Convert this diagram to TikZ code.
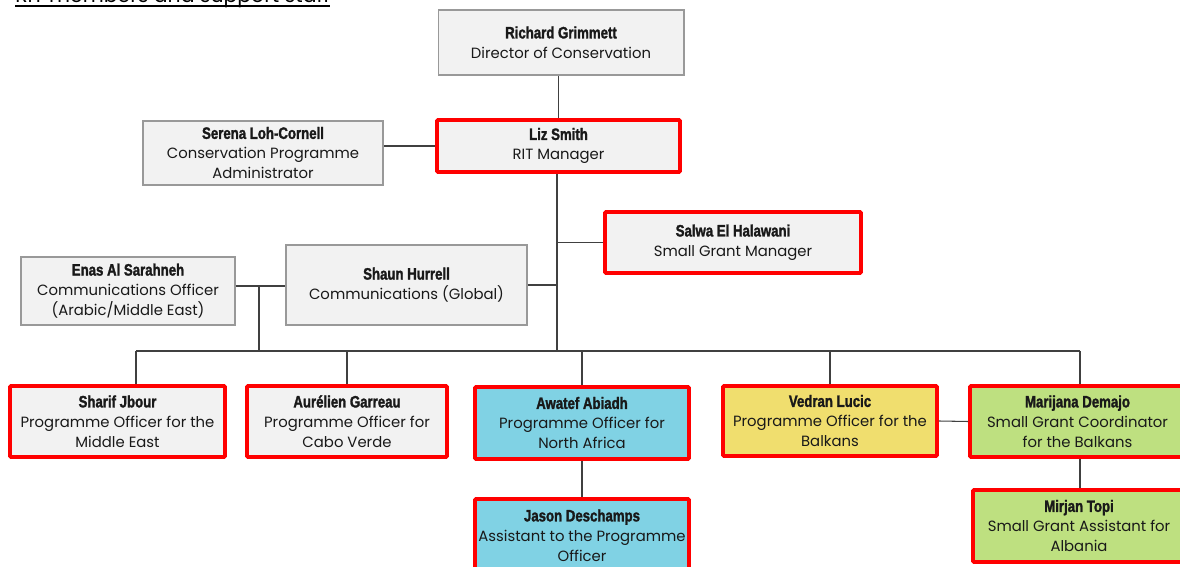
\documentclass[tikz,border=0pt]{standalone}
\usepackage{fontspec}
\setmainfont{Poppins}
\newfontfamily\namefont[FakeStretch=0.8, FakeBold=1.6]{Liberation Sans}
\usepackage{xcolor}
\usepackage{tikz}
\usetikzlibrary{shapes,positioning}

\definecolor{boxgrey}{HTML}{F2F2F2}
\definecolor{ritred}{HTML}{FF0000}
\definecolor{poblue}{HTML}{80D2E4}
\definecolor{poyellow}{HTML}{F0DE6E}
\definecolor{pogreen}{HTML}{BEE080}
\definecolor{linegrey}{HTML}{404040}

\newcommand{\who}[1]{{\namefont\bfseries\fontsize{9.4}{11.4}\selectfont #1}}

\tikzset{
    box/.style={rectangle, align=center, inner sep=0pt, text=black!90,
        font=\fontsize{8.45}{11.4}\selectfont},
    staffbox/.style={box, draw=gray!80, line width=0.6pt, fill=boxgrey},
    ritbox/.style={box, draw=ritred, line width=2.2pt, rounded corners=0.6pt, fill=boxgrey},
    link/.style={draw=linegrey, line width=0.6pt}
}

\begin{document}
\begin{tikzpicture}[x=0.02cm, y=-0.02cm]
                \useasboundingbox (0,0) rectangle (1180,567);
                \clip (0,0) rectangle (1180,567);

                % heading, cut at the top edge
                \node[anchor=base west, inner sep=0pt, font=\fontsize{11.6}{14}\selectfont] (heading) at (15,2.5) {RIT members and support staff};
                \draw[line width=1.1pt] ([yshift=-2.2pt]heading.base west) -- ([yshift=-2.2pt]heading.base east);

                % management
                \node[staffbox, minimum width=4.92cm, minimum height=1.3cm] (dir) at (561,42.5)
                    {\who{Richard Grimmett}\\Director of Conservation};
                \node[ritbox, minimum width=4.86cm, minimum height=1.04cm] (rit) at (558.5,146)
                    {\who{Liz Smith}\\RIT Manager};
                \node[staffbox, minimum width=4.8cm, minimum height=1.28cm] (admin) at (263,153)
                    {\who{Serena Loh-Cornell}\\Conservation Programme\\Administrator};
                \node[ritbox, minimum width=5.12cm, minimum height=1.22cm] (sgm) at (733,242.5)
                    {\who{Salwa El Halawani}\\Small Grant Manager};
                \node[staffbox, minimum width=4.82cm, minimum height=1.6cm] (com) at (406.5,285)
                    {\who{Shaun Hurrell}\\Communications (Global)};
                \node[staffbox, minimum width=4.28cm, minimum height=1.36cm] (comme) at (128,291)
                    {\who{Enas Al Sarahneh}\\Communications Officer\\(Arabic/Middle East)};

                % programme officers
                \node[ritbox, minimum width=4.3cm, minimum height=1.42cm] (pome) at (117.5,421.5)
                    {\who{Sharif Jbour}\\Programme Officer for the\\Middle East};
                \node[ritbox, minimum width=4.0cm, minimum height=1.42cm] (pocv) at (347,421.5)
                    {\who{Aurélien Garreau}\\Programme Officer for\\Cabo Verde};
                \node[ritbox, fill=poblue, minimum width=4.28cm, minimum height=1.44cm] (pona) at (582,423)
                    {\who{Awatef Abiadh}\\Programme Officer for\\North Africa};
                \node[ritbox, fill=poyellow, minimum width=4.28cm, minimum height=1.4cm] (pob) at (830,421)
                    {\who{Vedran Lucic}\\Programme Officer for the\\Balkans};
                \node[ritbox, fill=pogreen, minimum width=4.3cm, minimum height=1.42cm] (sgc) at (1077.5,421.5)
                    {\who{Marijana Demajo}\\Small Grant Coordinator\\for the Balkans};

                % assistants
                \node[ritbox, fill=poblue, minimum width=4.28cm, minimum height=1.46cm] (asst) at (582,535.5)
                    {\who{Jason Deschamps}\\Assistant to the Programme\\Officer};
                \node[ritbox, fill=pogreen, minimum width=4.24cm, minimum height=1.44cm] (topi) at (1079,526)
                    {\who{Mirjan Topi}\\Small Grant Assistant for\\Albania};

                % connectors
                \coordinate (bl) at (136,351);
                \coordinate (br) at (1080,351);
                \coordinate (cj) at (259,286);
                \coordinate (spine) at (557,351);

                \draw[link] (rit.north) -- (rit.north |- dir.south);
                \draw[link] (rit.west) -- (rit.west -| admin.east);
                \draw[link] (rit.south -| spine) -- (spine);
                \draw[link] (sgm.west) -- (sgm.west -| spine);
                \draw[link] (com.east) -- (com.east -| spine);
                \draw[link] (comme.east |- cj) -- (com.west |- cj);
                \draw[link] (cj) -- (cj |- bl);
                \draw[link] (bl) -- (br);
                \draw[link] (bl) -- (bl |- pome.north);
                \foreach \n in {pocv,pona,pob}
                    \draw[link] (\n.north) -- (\n.north |- bl);
                \draw[link] (br) -- (br |- sgc.north);
                \draw[link] (pob.east) -- (sgc.west);
                \draw[link] (pona.south) -- (asst.north);
                \draw[link] (sgc.south -| br) -- (topi.north -| br);
\end{tikzpicture}
\end{document}
